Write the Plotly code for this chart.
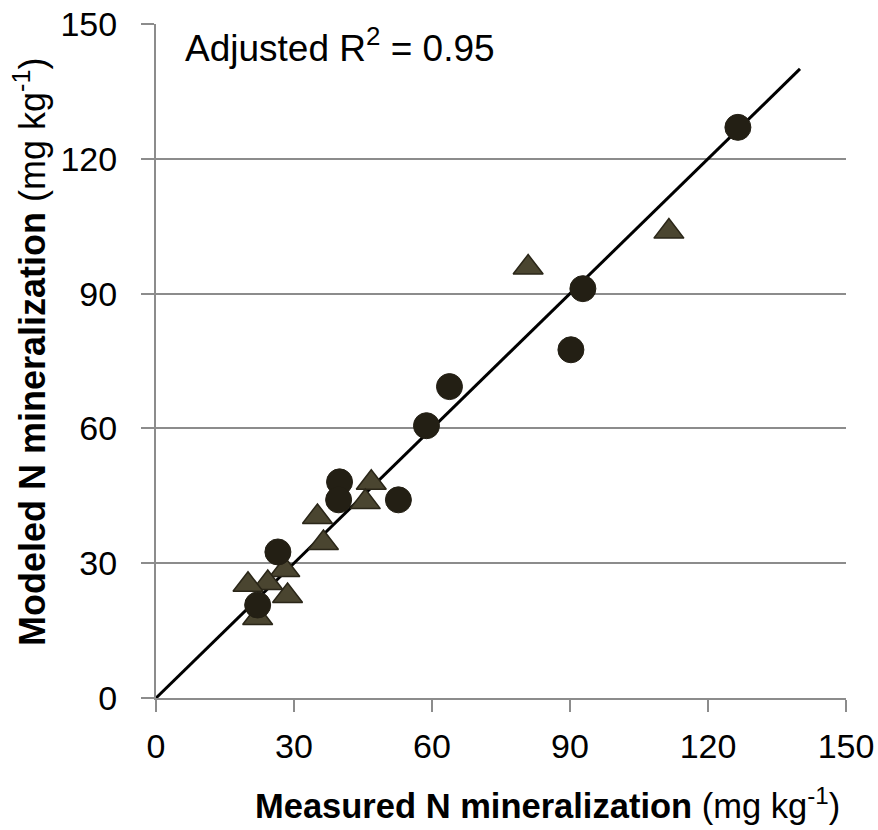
import plotly.graph_objects as go

# Circles series
circle_x = [126.5, 92.8, 90.2, 63.8, 58.8, 52.7, 39.9, 39.7, 26.5, 22.1]
circle_y = [127.0, 91.1, 77.5, 69.3, 60.6, 44.1, 48.1, 44.1, 32.5, 20.7]

# Triangles series
tri_x = [111.5, 80.9, 46.8, 45.5, 35.1, 36.4, 28.0, 28.6, 24.3, 20.0, 22.1]
tri_y = [103.8, 95.8, 47.9, 43.6, 40.3, 34.5, 28.5, 22.7, 25.6, 25.2, 17.8]

# 1:1 line
line_x = [0, 140]
line_y = [0, 140]

tick_vals = [0, 30, 60, 90, 120, 150]
tick_text = ["0", "30", "60", "90", "120", "150"]

font_fam = "Liberation Sans, Arial, sans-serif"

W, H = 878, 830
L, R, T, B = 156, 32, 24, 132
PW, PH = W - L - R, H - T - B

fig = go.Figure()
fig.add_trace(go.Scatter(x=line_x, y=line_y, mode="lines",
                         line=dict(color="black", width=3), showlegend=False,
                         cliponaxis=False))
fig.add_trace(go.Scatter(x=tri_x, y=tri_y, mode="markers",
                         marker=dict(symbol="triangle-up", size=26, color="#4a4530",
                                     line=dict(color="#2a2618", width=1.5)),
                         showlegend=False, cliponaxis=False))
fig.add_trace(go.Scatter(x=circle_x, y=circle_y, mode="markers",
                         marker=dict(symbol="circle", size=26, color="#231f14",
                                     line=dict(color="#231f14", width=1)),
                         showlegend=False, cliponaxis=False))

fig.update_layout(
    width=W, height=H,
    margin=dict(l=L, r=R, t=T, b=B, autoexpand=False),
    plot_bgcolor="white", paper_bgcolor="white",
    font=dict(family=font_fam, size=34, color="black"),
    xaxis=dict(range=[0, 150], tickvals=tick_vals, ticktext=tick_text,
               showgrid=False, zeroline=False, showline=True, linecolor="#8c8c8c",
               linewidth=2, ticks="outside", ticklen=12, tickcolor="#8c8c8c",
               tickwidth=2, ticklabelstandoff=5, automargin=False,
               tickfont=dict(size=34, family=font_fam, color="black")),
    yaxis=dict(range=[0, 150], tickvals=tick_vals, ticktext=tick_text,
               showgrid=True, gridcolor="#8c8c8c", gridwidth=2, zeroline=False,
               showline=True, linecolor="#8c8c8c", linewidth=2,
               ticks="outside", ticklen=13, tickcolor="#8c8c8c", tickwidth=2,
               ticklabelstandoff=17, automargin=False,
               tickfont=dict(size=34, family=font_fam, color="black")),
)

fig.add_annotation(x=(183 - L) / PW, y=(H - B - 45) / PH, xref="paper", yref="paper",
                   xanchor="left", yanchor="middle", showarrow=False,
                   text="Adjusted R<sup>2</sup> = 0.95",
                   font=dict(size=37, family=font_fam, color="black"))
fig.add_annotation(x=(547 - L) / PW, y=-(803 - (H - B)) / PH, xref="paper", yref="paper",
                   xanchor="center", yanchor="middle", showarrow=False,
                   text="<b>Measured N mineralization</b> (mg kg<sup>-1</sup>)",
                   font=dict(size=34.5, family=font_fam, color="black"))
fig.add_annotation(x=(30 - L) / PW, y=(H - B - 352) / PH, xref="paper", yref="paper",
                   xanchor="center", yanchor="middle", showarrow=False, textangle=-90,
                   text="<b>Modeled N mineralization</b> (mg kg<sup>-1</sup>)",
                   font=dict(size=36, family=font_fam, color="black"))

fig.write_html("out.html", config={"displayModeBar": False},
               post_script="document.body.style.margin='0';document.body.style.padding='0';")
